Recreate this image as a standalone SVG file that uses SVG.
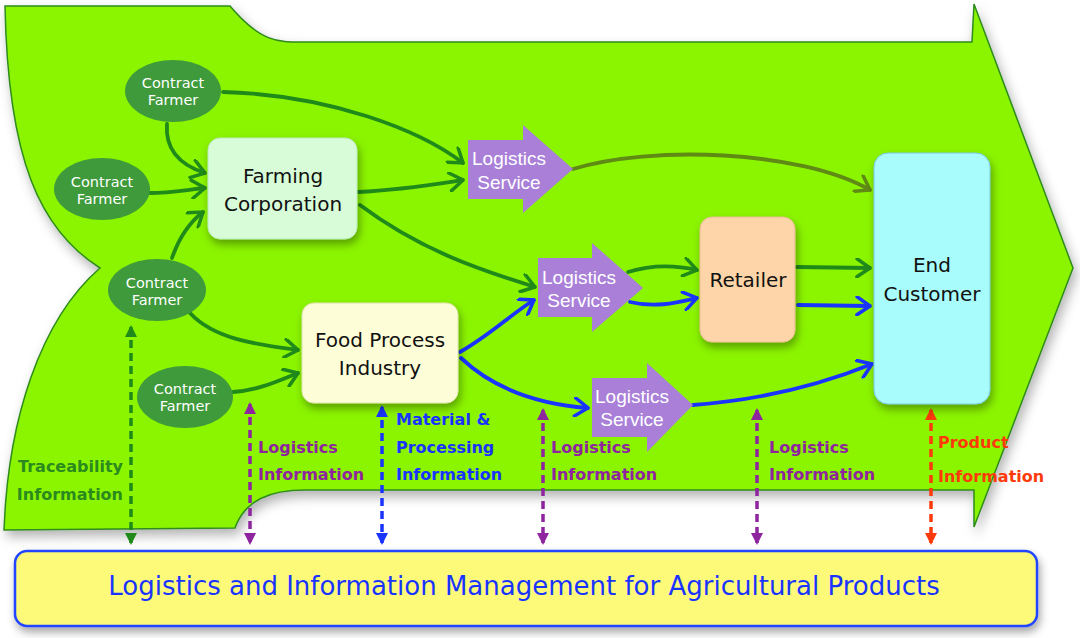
<svg xmlns="http://www.w3.org/2000/svg" width="1080" height="638" viewBox="0 0 1080 638">
<defs>
<filter id="sh" x="-10%" y="-10%" width="130%" height="140%"><feDropShadow dx="2" dy="5" stdDeviation="4" flood-color="#000" flood-opacity="0.35"/></filter>
<filter id="bigsh" x="-5%" y="-5%" width="115%" height="120%"><feDropShadow dx="3" dy="6" stdDeviation="6" flood-color="#000" flood-opacity="0.3"/></filter>
<marker id="mg" viewBox="0 0 16 20" refX="15" refY="10" markerWidth="16" markerHeight="20" markerUnits="userSpaceOnUse" orient="auto"><path d="M2,1 L15,10 L2,19" fill="none" stroke="#1f8a1a" stroke-width="3.5" stroke-linecap="round"/></marker>
<marker id="mo" viewBox="0 0 16 20" refX="15" refY="10" markerWidth="16" markerHeight="20" markerUnits="userSpaceOnUse" orient="auto"><path d="M2,1 L15,10 L2,19" fill="none" stroke="#5f8a14" stroke-width="3.5" stroke-linecap="round"/></marker>
<marker id="mb" viewBox="0 0 16 20" refX="15" refY="10" markerWidth="16" markerHeight="20" markerUnits="userSpaceOnUse" orient="auto"><path d="M2,1 L15,10 L2,19" fill="none" stroke="#1a34ff" stroke-width="3.5" stroke-linecap="round"/></marker>
<marker id="tg" viewBox="0 0 12 12" refX="10" refY="6" markerWidth="12" markerHeight="12" markerUnits="userSpaceOnUse" orient="auto-start-reverse"><path d="M0,0 L12,6 L0,12 Z" fill="#1f8a1a"/></marker>
<marker id="tp" viewBox="0 0 12 12" refX="10" refY="6" markerWidth="12" markerHeight="12" markerUnits="userSpaceOnUse" orient="auto-start-reverse"><path d="M0,0 L12,6 L0,12 Z" fill="#8e249e"/></marker>
<marker id="tb" viewBox="0 0 12 12" refX="10" refY="6" markerWidth="12" markerHeight="12" markerUnits="userSpaceOnUse" orient="auto-start-reverse"><path d="M0,0 L12,6 L0,12 Z" fill="#1a34ff"/></marker>
<marker id="tr" viewBox="0 0 12 12" refX="10" refY="6" markerWidth="12" markerHeight="12" markerUnits="userSpaceOnUse" orient="auto-start-reverse"><path d="M0,0 L12,6 L0,12 Z" fill="#ff3a0a"/></marker>
</defs>
<style>
.farmer{fill:#3e9a3a}
.ft{font-family:"DejaVu Sans",sans-serif;font-size:14.5px;fill:#fff;text-anchor:middle}
.nt{font-family:"DejaVu Sans",sans-serif;font-size:20px;fill:#111;text-anchor:middle}
.ls{fill:#a97fd8}
.lt{font-family:"Liberation Sans",Arial,sans-serif;font-size:19px;fill:#fff;text-anchor:middle}
.c{fill:none;stroke-width:3.8;stroke-linecap:round}
.g{stroke:#1f8a1a;marker-end:url(#mg)}
.o{stroke:#5f8a14;marker-end:url(#mo)}
.b{stroke:#1a34ff;marker-end:url(#mb)}
.d{fill:none;stroke-width:3.5;stroke-dasharray:8 5}
.lab{font-family:"DejaVu Sans",sans-serif;font-size:16px;font-weight:bold}
</style>
<path id="band" d="M5,6 L230,6 C262,44 280,42 305,42 L972,42 L974,4 L1073,268 L974,527 L974,490 L305,490 C270,490 245,500 235,528 L4,530 C8,420 40,320 100,268 C40,230 8,160 5,6 Z" fill="#8bf500" stroke="#2e8b1e" stroke-width="1.5" filter="url(#bigsh)"/>
<g id="connectors">
<path class="c g" d="M167,124 C165,150 180,165 205,173"/>
<path class="c g" d="M150,193 C170,193 185,190 205,188"/>
<path class="c g" d="M172,258 C180,235 190,222 203,212"/>
<path class="c g" d="M223,92 C330,95 420,130 463,163"/>
<path class="c g" d="M358,192 C400,190 430,185 463,180"/>
<path class="c g" d="M360,205 C420,250 480,270 535,287"/>
<path class="c o" d="M573,169 C650,145 800,150 870,190"/>
<path class="c g" d="M628,272 C650,265 675,265 697,270"/>
<path class="c g" d="M190,313 C215,340 260,345 298,350"/>
<path class="c g" d="M233,392 C260,390 280,380 298,373"/>
<path class="c g" d="M797,267 L870,268"/>
<path class="c b" d="M460,352 C490,335 510,315 534,300"/>
<path class="c b" d="M461,358 C500,395 550,405 588,408"/>
<path class="c b" d="M630,302 C655,308 675,303 697,298"/>
<path class="c b" d="M798,305 L870,306"/>
<path class="c b" d="M693,405 C760,400 820,385 872,364"/>
<line class="d" x1="131" y1="327" x2="131" y2="543" stroke="#1f8a1a" marker-start="url(#tg)" marker-end="url(#tg)"/>
<line class="d" x1="250" y1="404" x2="250" y2="543" stroke="#8e249e" marker-start="url(#tp)" marker-end="url(#tp)"/>
<line class="d" x1="382" y1="407" x2="382" y2="543" stroke="#1a34ff" marker-start="url(#tb)" marker-end="url(#tb)"/>
<line class="d" x1="543" y1="410" x2="543" y2="543" stroke="#8e249e" marker-start="url(#tp)" marker-end="url(#tp)"/>
<line class="d" x1="757" y1="410" x2="757" y2="543" stroke="#8e249e" marker-start="url(#tp)" marker-end="url(#tp)"/>
<line class="d" x1="931" y1="410" x2="931" y2="543" stroke="#ff3a0a" marker-start="url(#tr)" marker-end="url(#tr)"/>
</g>
<g id="cf1"><ellipse class="farmer" cx="173" cy="91" rx="48" ry="31"/><text class="ft" x="173" y="88">Contract</text><text class="ft" x="173" y="105">Farmer</text></g>
<g id="cf2"><ellipse class="farmer" cx="102" cy="189" rx="48" ry="31"/><text class="ft" x="102" y="187">Contract</text><text class="ft" x="102" y="204">Farmer</text></g>
<g id="cf3"><ellipse class="farmer" cx="157" cy="290" rx="49" ry="31"/><text class="ft" x="157" y="288">Contract</text><text class="ft" x="157" y="305">Farmer</text></g>
<g id="cf4"><ellipse class="farmer" cx="185" cy="397" rx="48" ry="31"/><text class="ft" x="185" y="394">Contract</text><text class="ft" x="185" y="411">Farmer</text></g>
<g id="farming"><rect x="208" y="138" width="149" height="101" rx="12" fill="#d8fcd8" stroke="#b8e8b8" filter="url(#sh)"/><text class="nt" x="283" y="183">Farming</text><text class="nt" x="283" y="211">Corporation</text></g>
<g id="food"><rect x="302" y="303" width="156" height="100" rx="12" fill="#fdfdd8" stroke="#e0e0b0" filter="url(#sh)"/><text class="nt" x="380" y="347">Food Process</text><text class="nt" x="380" y="375">Industry</text></g>
<g id="retailer"><rect x="700" y="217" width="95" height="125" rx="12" fill="#fdd5a8" stroke="#e8bb90" filter="url(#sh)"/><text class="nt" x="748" y="287">Retailer</text></g>
<g id="customer"><rect x="874" y="153" width="116" height="251" rx="14" fill="#a8fcfc" stroke="#78c8e0" filter="url(#sh)"/><text class="nt" x="932" y="272">End</text><text class="nt" x="932" y="301">Customer</text></g>
<g id="ls1"><path class="ls" d="M468,140 L523,140 L523,125 L573,169 L523,213 L523,199 L468,199 Z"/><text class="lt" x="509" y="165">Logistics</text><text class="lt" x="509" y="189">Service</text></g>
<g id="ls2"><path class="ls" d="M538,258 L592,258 L592,243 L643,288 L592,332 L592,317 L538,317 Z"/><text class="lt" x="579" y="284">Logistics</text><text class="lt" x="579" y="307">Service</text></g>
<g id="ls3"><path class="ls" d="M592,378 L647,378 L647,363 L693,405 L647,452 L647,437 L592,437 Z"/><text class="lt" x="632" y="403">Logistics</text><text class="lt" x="632" y="426">Service</text></g>
<g id="labels">
<text class="lab" fill="#2a8a1e" text-anchor="end"><tspan x="123" y="472">Traceability</tspan><tspan x="123" y="500">Information</tspan></text>
<text class="lab" fill="#8e249e"><tspan x="258" y="453">Logistics</tspan><tspan x="258" y="480">Information</tspan></text>
<text class="lab" fill="#1a34ff"><tspan x="396" y="425">Material &amp;</tspan><tspan x="396" y="453">Processing</tspan><tspan x="396" y="480">Information</tspan></text>
<text class="lab" fill="#8e249e"><tspan x="551" y="453">Logistics</tspan><tspan x="551" y="480">Information</tspan></text>
<text class="lab" fill="#8e249e"><tspan x="769" y="453">Logistics</tspan><tspan x="769" y="480">Information</tspan></text>
<text class="lab" fill="#ff3a0a"><tspan x="938" y="448">Product</tspan><tspan x="938" y="482">Information</tspan></text>
</g>
<g id="mgmt"><rect x="15" y="551" width="1022" height="75" rx="12" fill="#fdfa7a" stroke="#2244ff" stroke-width="2.5" filter="url(#sh)"/><text x="524" y="595" font-family="DejaVu Sans, sans-serif" font-size="26" fill="#1a34ff" text-anchor="middle">Logistics and Information Management for Agricultural Products</text></g>
</svg>
